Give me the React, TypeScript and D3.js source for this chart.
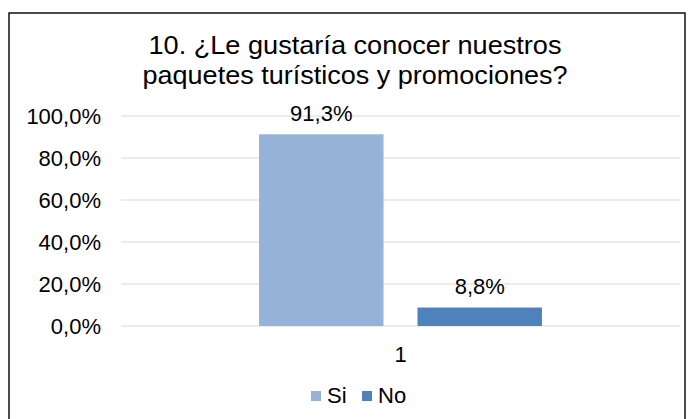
import * as d3 from 'd3'
import { useRef, useEffect } from 'react'

const categories = ['1']
const seriesNames = ['Si', 'No']
const seriesValues = [0.913, 0.088]
const seriesColors = ['#95b3d7', '#4f81bd']
const yTicks = [0, 0.2, 0.4, 0.6, 0.8, 1.0]
const titleLines = ['10. ¿Le gustaría conocer nuestros', 'paquetes turísticos y promociones?']

const W = 689
const H = 419
const font = '"Liberation Sans", Arial, sans-serif'

export default function App() {
    const svgRef = useRef<SVGSVGElement>(null)

    useEffect(() => {
        const svg = d3.select(svgRef.current)
        svg.selectAll('*').remove()

        const fmt = (v: number) => d3.format('.1f')(v * 100).replace('.', ',') + '%'

        // chart frame
        svg.append('rect')
            .attr('x', 9).attr('y', 13)
            .attr('width', 676).attr('height', 420)
            .attr('fill', 'white')
            .attr('stroke', '#111').attr('stroke-width', 1.5)

        // title (the original font is a bit wider than Liberation Sans)
        const titleWidths = [413, 425]
        svg.append('g').selectAll('text')
            .data(titleLines)
            .enter()
            .append('text')
            .attr('x', 355)
            .attr('y', (d, i) => 54 + i * 30)
            .attr('text-anchor', 'middle')
            .attr('textLength', (d, i) => titleWidths[i])
            .attr('lengthAdjust', 'spacingAndGlyphs')
            .style('font-family', font)
            .style('font-size', '26px')
            .attr('fill', '#000')
            .text(d => d)

        const plot = { left: 121, right: 680, top: 116, bottom: 326 }

        const xScale = d3.scaleBand()
            .domain(categories)
            .range([plot.left, plot.right])
            .paddingInner(0)
            .paddingOuter(0.488)

        const xSub = d3.scaleBand()
            .domain(seriesNames)
            .range([0, xScale.bandwidth()])
            .paddingInner(0.2145)

        const yScale = d3.scaleLinear()
            .domain([0, 1])
            .range([plot.bottom, plot.top])

        // gridlines
        svg.append('g').selectAll('line')
            .data(yTicks)
            .enter()
            .append('line')
            .attr('x1', plot.left).attr('x2', plot.right)
            .attr('y1', d => yScale(d)).attr('y2', d => yScale(d))
            .attr('stroke', '#d9d9d9').attr('stroke-width', 1)

        // y labels
        svg.append('g').selectAll('text')
            .data(yTicks)
            .enter()
            .append('text')
            .attr('x', 101)
            .attr('y', d => yScale(d) + 7.5)
            .attr('text-anchor', 'end')
            .style('font-family', font)
            .style('font-size', '22px')
            .attr('fill', '#000')
            .text(d => fmt(d))

        // bars
        const data = seriesNames.map((s, i) => ({ cat: categories[0], name: s, value: seriesValues[i], color: seriesColors[i] }))
        const g = svg.append('g')
        g.selectAll('rect')
            .data(data)
            .enter()
            .append('rect')
            .attr('x', d => xScale(d.cat)! + xSub(d.name)!)
            .attr('y', d => yScale(d.value))
            .attr('width', xSub.bandwidth())
            .attr('height', d => yScale(0) - yScale(d.value))
            .attr('fill', d => d.color)

        // data labels
        g.selectAll('text.lbl')
            .data(data)
            .enter()
            .append('text')
            .attr('class', 'lbl')
            .attr('x', d => xScale(d.cat)! + xSub(d.name)! + xSub.bandwidth() / 2)
            .attr('y', d => yScale(d.value) - 13.5)
            .attr('text-anchor', 'middle')
            .style('font-family', font)
            .style('font-size', '22px')
            .attr('fill', '#000')
            .text(d => fmt(d.value))

        // x axis label
        svg.append('g').selectAll('text')
            .data(categories)
            .enter()
            .append('text')
            .attr('x', d => xScale(d)! + xScale.bandwidth() / 2)
            .attr('y', 362)
            .attr('text-anchor', 'middle')
            .style('font-family', font)
            .style('font-size', '22px')
            .attr('fill', '#000')
            .text(d => d)

        // legend
        const legendX = [311, 362]
        const legend = svg.append('g')
        seriesNames.forEach((s, i) => {
            legend.append('rect')
                .attr('x', legendX[i]).attr('y', 391)
                .attr('width', 10).attr('height', 10)
                .attr('fill', seriesColors[i])
            legend.append('text')
                .attr('x', legendX[i] + 16)
                .attr('y', 403)
                .style('font-family', font)
                .style('font-size', '22px')
                .attr('fill', '#000')
                .text(s)
        })
    }, [])

    return (
        <svg ref={svgRef} width={W} height={H} style={{ position: 'absolute', left: 0, top: 0 }}></svg>
    )
}
